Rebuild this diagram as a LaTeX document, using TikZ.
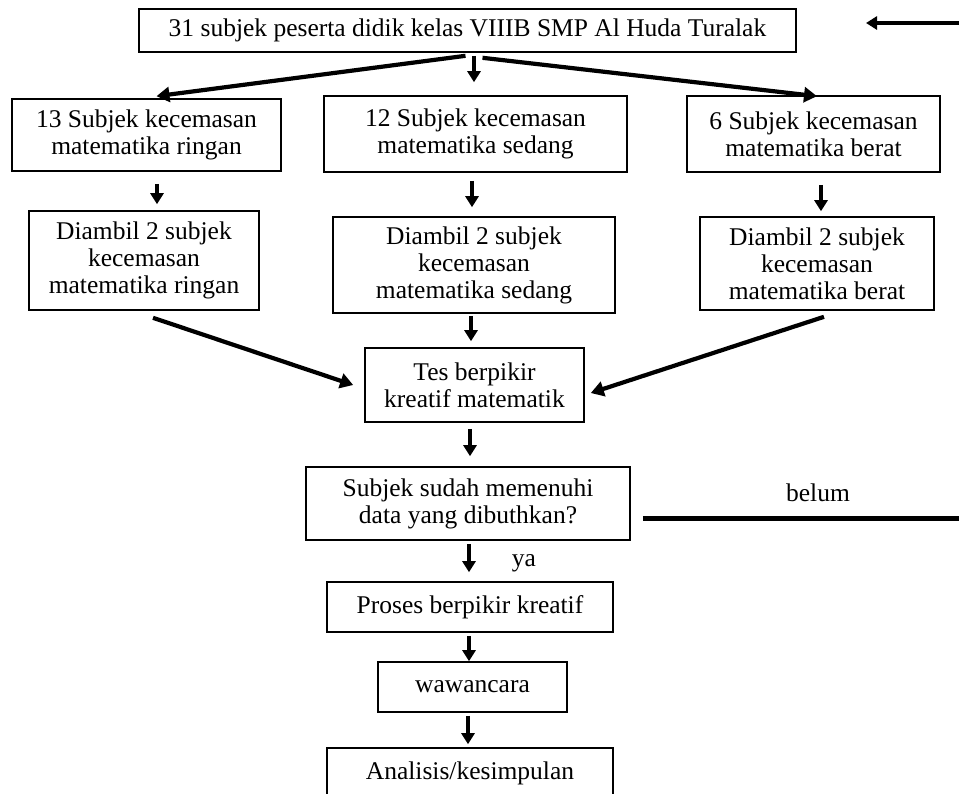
\documentclass[tikz,border=0pt]{standalone}
\usepackage{fontspec}
\setmainfont{Liberation Serif}
\usetikzlibrary{arrows.meta,calc}
\begin{document}
\begin{tikzpicture}[x=1pt,y=-1pt,
  box/.style={draw, line width=1.6pt, align=center, inner sep=0pt, font=\fontsize{25.5}{27}\selectfont},
  arr/.style={line width=3.2pt, -{Triangle[length=11pt,width=13pt]}},
  darr/.style={line width=4.2pt, -{Triangle[length=13pt,width=15pt]}},
  lbl/.style={font=\fontsize{25.5}{27}\selectfont, inner sep=0pt}]
\clip (0,0) rectangle (959,793);
\fill[white] (0,0) rectangle (959,793);

% nodes
\node[box, minimum width=657pt, minimum height=43pt] (top) at (467.5,30.5) {31 subjek peserta didik kelas VIIIB SMP Al Huda Turalak};
\node[box, minimum width=269pt, minimum height=72pt] (L1) at (146.5,135) {13 Subjek kecemasan\\matematika ringan};
\node[box, minimum width=303pt, minimum height=76pt] (M1) at (475.5,134) {12 Subjek kecemasan\\matematika sedang};
\node[box, minimum width=253pt, minimum height=76pt] (R1) at (813.5,134) {6 Subjek kecemasan\\matematika berat};
\node[box, minimum width=230pt, minimum height=99pt] (L2) at (144,260.5) {Diambil 2 subjek\\kecemasan\\matematika ringan};
\node[box, minimum width=282pt, minimum height=96pt] (M2) at (474,265) {Diambil 2 subjek\\kecemasan\\matematika sedang};
\node[box, minimum width=234pt, minimum height=93pt] (R2) at (817,263.5) {Diambil 2 subjek\\kecemasan\\matematika berat};
\node[box, minimum width=219pt, minimum height=74pt] (tes) at (474.5,385) {Tes berpikir\\kreatif matematik};
\node[box, minimum width=324pt, minimum height=73pt] (subj) at (468,503.5) {Subjek sudah memenuhi\\data yang dibuthkan?};
\node[box, minimum width=286pt, minimum height=50pt] (pros) at (470,607) {Proses berpikir kreatif};
\node[box, minimum width=189pt, minimum height=50pt] (waw) at (472.5,687) {wawancara};
\node[box, minimum width=286pt, minimum height=50pt] (ana) at (470,773) {Analisis/kesimpulan};

% labels
\node[lbl] (belum) at (818,493) {belum};
\node[lbl] (ya) at (524,563) {ya};

% connectors from top
\draw[darr] ($(top.south)+(-2,3)$) -- ($(L1.north)+(10,-2)$);
\draw[arr] ($(top.south)+(6.5,3)$) -- ($(M1.north)+(-1.5,-13)$);
\draw[darr] ($(top.south)+(15,5)$) -- ($(R1.north)+(3.5,1)$);

% level 1 to level 2
\draw[arr] ($(L1.south)+(10.5,12)$) -- ($(L2.north)+(13,-6)$);
\draw[arr] ($(M1.south)+(-3.5,8)$) -- ($(M2.north)+(-2,-9)$);
\draw[arr] ($(R1.south)+(7.5,12)$) -- ($(R2.north)+(4,-5)$);

% level 2 to test
\draw[darr] ($(L2.south)+(9,7)$) -- ($(tes.west)+(-11,0)$);
\draw[arr] ($(M2.south)+(-3,2)$) -- ($(tes.north)+(-3.5,-6)$);
\draw[darr] ($(R2.south)+(7,6)$) -- ($(tes.east)+(6,8)$);

% main column
\draw[arr] ($(tes.south)+(-4.5,6)$) -- ($(subj.north)+(2,-10)$);
\draw[arr] ($(subj.south)+(1,3)$) -- ($(pros.north)+(-1,-9)$);
\draw[arr] ($(pros.south)+(-1,3)$) -- ($(waw.north)+(-3.5,0)$);
\draw[arr] ($(waw.south)+(-4.5,3)$) -- ($(ana.north)+(-2,-3)$);

% loop back (belum)
\coordinate (loopend) at (962,518);
\coordinate (loopstart) at (962,23);
\coordinate (looptip) at (866,23);
\draw[line width=5pt] ($(subj.east)+(12,14.5)$) -- (loopend);
\draw[arr] (loopstart) -- (looptip);
\end{tikzpicture}
\end{document}
